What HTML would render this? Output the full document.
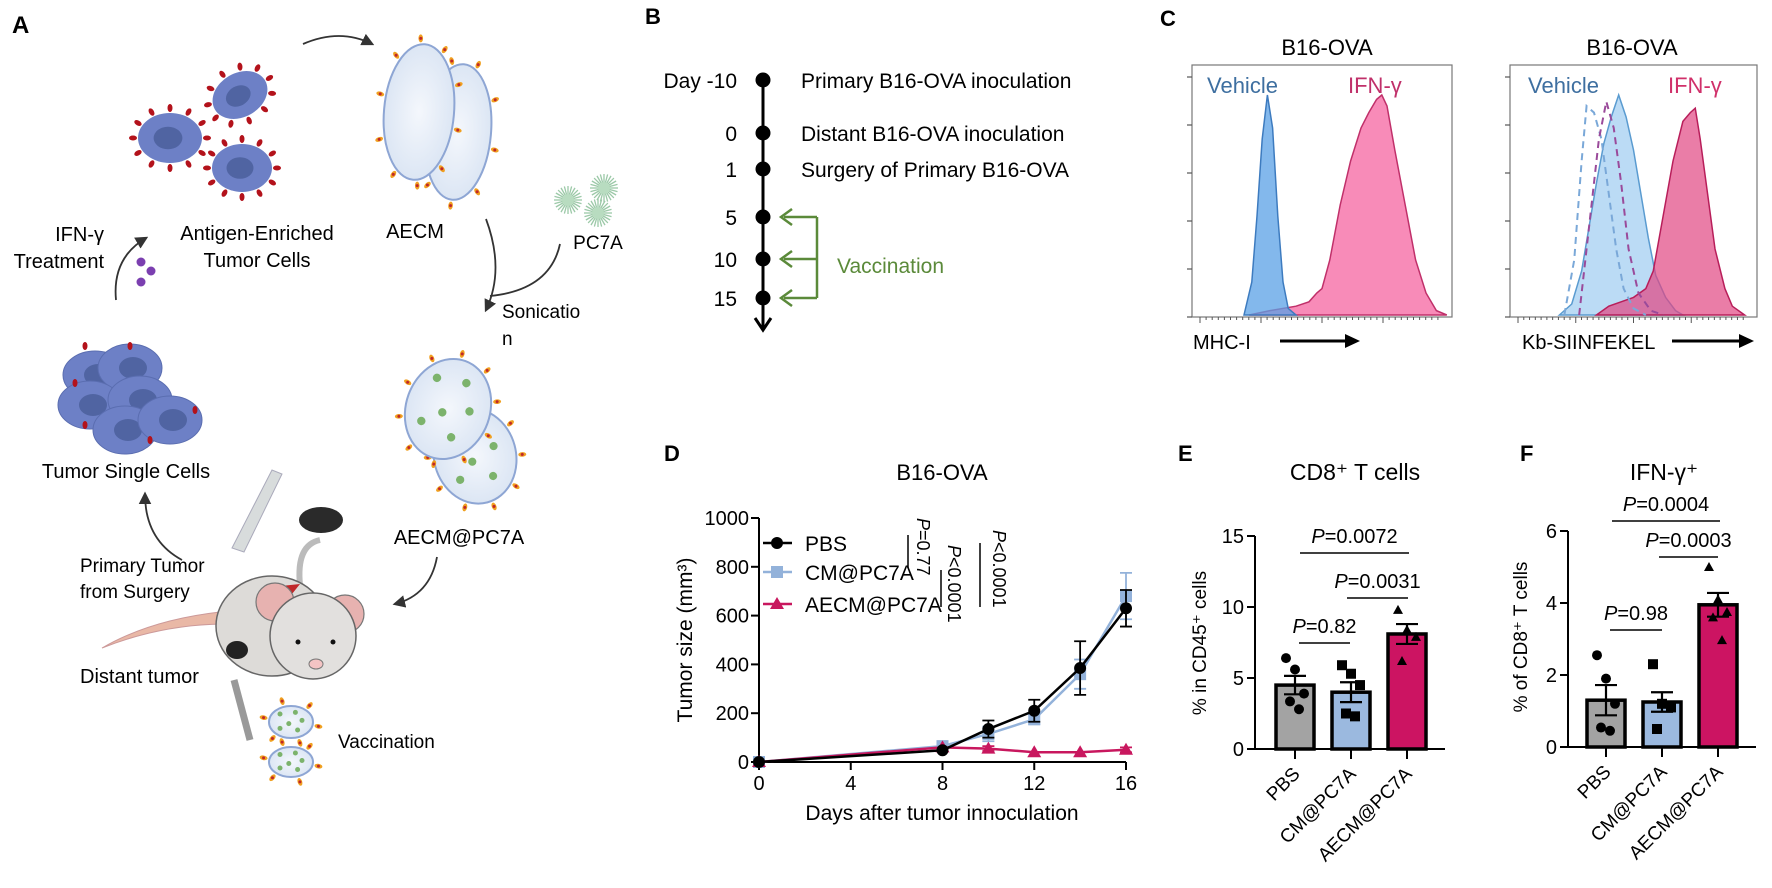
<!DOCTYPE html>
<html><head><meta charset="utf-8"><style>
html,body{margin:0;padding:0;background:#fff;}
svg{display:block;font-family:"Liberation Sans",Arial,sans-serif;}
</style></head><body>
<svg id="fig" width="1772" height="888" viewBox="0 0 1772 888">
<defs>
<marker id="ah" viewBox="0 0 10 10" refX="8" refY="5" markerWidth="7" markerHeight="7" orient="auto"><path d="M0,0 L10,5 L0,10 z" fill="#333"/></marker>
<marker id="ahg" viewBox="0 0 10 10" refX="2" refY="5" markerWidth="6" markerHeight="8" orient="auto"><path d="M10,0 L0,5 L10,10" fill="none" stroke="#5b8a3a" stroke-width="2.2"/></marker>
<radialGradient id="vesG" cx="50%" cy="50%" r="50%"><stop offset="0" stop-color="#f4f7fc"/><stop offset="1" stop-color="#dce6f4"/></radialGradient>
</defs>

<!-- PANEL A -->
<g id="panelA">
<text x="12" y="33" font-size="24" font-weight="bold">A</text>
<path d="M303,44 Q340,28 372,44" fill="none" stroke="#333" stroke-width="1.8" marker-end="url(#ah)"/>
<g id="cells"></g>
<text x="257" y="240" font-size="20" text-anchor="middle">Antigen-Enriched</text>
<text x="257" y="267" font-size="20" text-anchor="middle">Tumor Cells</text>
<text x="104" y="241" font-size="20" text-anchor="end">IFN-γ</text>
<text x="104" y="268" font-size="20" text-anchor="end">Treatment</text>
<path d="M116,300 Q112,258 146,238" fill="none" stroke="#333" stroke-width="1.8" marker-end="url(#ah)"/>
<circle cx="141" cy="262" r="4.5" fill="#7b3fb0"/>
<circle cx="151" cy="271" r="4.5" fill="#7b3fb0"/>
<circle cx="141" cy="282" r="4.5" fill="#7b3fb0"/>
<text x="415" y="238" font-size="20" text-anchor="middle">AECM</text>
<path d="M486,219 Q505,270 486,310" fill="none" stroke="#333" stroke-width="1.8" marker-end="url(#ah)"/>
<path d="M560,244 Q550,290 490,296" fill="none" stroke="#333" stroke-width="1.8"/>
<text x="502" y="318" font-size="19">Sonicatio</text>
<text x="502" y="345" font-size="19">n</text>
<g id="pc7a"></g>
<text x="598" y="249" font-size="19" text-anchor="middle">PC7A</text>
<text x="459" y="544" font-size="20" text-anchor="middle">AECM@PC7A</text>
<path d="M437,557 Q430,595 395,604" fill="none" stroke="#333" stroke-width="1.8" marker-end="url(#ah)"/>
<text x="126" y="478" font-size="20" text-anchor="middle">Tumor Single Cells</text>
<path d="M182,560 Q145,540 145,494" fill="none" stroke="#333" stroke-width="1.8" marker-end="url(#ah)"/>
<text x="80" y="572" font-size="19">Primary Tumor</text>
<text x="80" y="598" font-size="19">from Surgery</text>
<!-- scalpel -->
<path d="M232,548 L272,470 L282,474 L244,552 Z" fill="#d8dcdc" stroke="#aab" stroke-width="1"/>
<ellipse cx="321" cy="520" rx="22" ry="13" fill="#2a2a2a"/>
<path d="M300,585 Q296,545 320,540" fill="none" stroke="#bbb" stroke-width="6"/>
<!-- mouse -->
<g>
<path d="M220,612 Q150,620 102,648 Q160,625 222,624 Z" fill="#e9b8a6" stroke="#c99" stroke-width="1"/>
<ellipse cx="272" cy="626" rx="56" ry="50" fill="#dddbd8" stroke="#666" stroke-width="1.5"/>
<path d="M262,588 L300,584 L292,594 Z" fill="#c0282a"/>
<circle cx="275" cy="602" r="19" fill="#e7b2b0" stroke="#777" stroke-width="1.2"/>
<circle cx="345" cy="614" r="19" fill="#e7b2b0" stroke="#777" stroke-width="1.2"/>
<circle cx="313" cy="636" r="43" fill="#e2e0de" stroke="#666" stroke-width="1.5"/>
<circle cx="298" cy="642" r="2.5" fill="#111"/><circle cx="333" cy="642" r="2.5" fill="#111"/>
<ellipse cx="316" cy="664" rx="7" ry="5" fill="#f4c4c4" stroke="#777"/>
<ellipse cx="237" cy="650" rx="11" ry="9" fill="#222"/>
</g>
<text x="80" y="683" font-size="20">Distant tumor</text>
<path d="M234,680 L250,740" stroke="#999" stroke-width="7"/>
<g id="vacc"></g>
<text x="338" y="748" font-size="19">Vaccination</text>
</g>

<!-- PANEL B -->
<g id="panelB">
<text x="645" y="24" font-size="22" font-weight="bold">B</text>
<line x1="763" y1="80" x2="763" y2="328" stroke="#000" stroke-width="3"/>
<path d="M755,318 L763,330 L771,318" fill="none" stroke="#000" stroke-width="3"/>
<g id="timeline"></g>
<path d="M817,217 L817,298 M817,217 L784,217 M817,259 L784,259 M817,298 L784,298" fill="none" stroke="#5b8a3a" stroke-width="2.5"/>
<path d="M792,209 L781,217 L792,225 M792,251 L781,259 L792,267 M792,290 L781,298 L792,306" fill="none" stroke="#5b8a3a" stroke-width="2.5"/>
<text x="837" y="273" font-size="21" fill="#5b8a3a">Vaccination</text>
</g>

<!-- PANEL C -->
<g id="panelC">
<text x="1160" y="26" font-size="22" font-weight="bold">C</text>
<text x="1327" y="55" font-size="22" text-anchor="middle">B16-OVA</text>
<text x="1632" y="55" font-size="22" text-anchor="middle">B16-OVA</text>
<g id="hist"></g>
<text x="1193" y="349" font-size="20">MHC-I</text>
<line x1="1280" y1="341" x2="1352" y2="341" stroke="#000" stroke-width="3"/>
<path d="M1345,334 L1360,341 L1345,348 Z" fill="#000"/>
<text x="1522" y="349" font-size="20">Kb-SIINFEKEL</text>
<line x1="1672" y1="341" x2="1746" y2="341" stroke="#000" stroke-width="3"/>
<path d="M1739,334 L1754,341 L1739,348 Z" fill="#000"/>
</g>

<!-- PANEL D -->
<g id="panelD">
<text x="664" y="461" font-size="22" font-weight="bold">D</text>
<text x="942" y="480" font-size="22" text-anchor="middle">B16-OVA</text>
<g id="chartD"></g>
</g>

<!-- PANEL E/F -->
<text x="1178" y="461" font-size="22" font-weight="bold">E</text>
<text x="1520" y="461" font-size="22" font-weight="bold">F</text>
<g id="chartE"></g>
<g id="chartF"></g>
</svg>

<script>
const NS='http://www.w3.org/2000/svg';
function mk(parent,tag,attrs,text){const e=document.createElementNS(NS,tag);for(const k in attrs)e.setAttribute(k,attrs[k]);if(text!==undefined)e.textContent=text;parent.appendChild(e);return e;}

// ===== Panel A illustration =====
(function(){
const g=document.getElementById('cells');
function cell(cx,cy,rx,ry,rot,spikes){
  const c=mk(g,'g',{transform:`translate(${cx},${cy}) rotate(${rot})`});
  
  
  for(let i=0;i<spikes;i++){const a=i/spikes*Math.PI*2;const x=Math.cos(a)*(rx+5),y=Math.sin(a)*(ry+5);
    mk(c,'ellipse',{cx:x,cy:y,rx:4,ry:2.5,fill:'#b3121b',transform:`rotate(${a*180/Math.PI} ${x} ${y})`});}
  mk(c,'ellipse',{cx:0,cy:0,rx:rx,ry:ry,fill:'#6d80c6'});
  mk(c,'ellipse',{cx:-2,cy:0,rx:rx*0.45,ry:ry*0.45,fill:'#5064a2'});
}
cell(240,95,29,22,-30,11);cell(170,138,32,25,0,12);cell(242,168,30,24,0,12);
// cluster
const cl=[[95,375],[130,368],[90,405],[140,400],[125,430],[170,420]];
cl.forEach(p=>{const c=mk(g,'g',{});
 mk(c,'ellipse',{cx:p[0],cy:p[1],rx:32,ry:24,fill:'#6d80c6',stroke:'#5a6db0'});mk(c,'ellipse',{cx:p[0]+3,cy:p[1],rx:14,ry:11,fill:'#5064a2'});});
[[85,346],[130,346],[75,383],[195,410],[150,440],[85,425]].forEach(p=>mk(g,'ellipse',{cx:p[0],cy:p[1],rx:2.5,ry:4,fill:'#b3121b'}));
function vesicle(cx,cy,rx,ry,rot,np,dots){
  const v=mk(g,'g',{transform:`translate(${cx},${cy}) rotate(${rot})`});
  
  
  for(let i=0;i<np;i++){const a=i/np*Math.PI*2+0.2;const x=Math.cos(a)*(rx+6),y=Math.sin(a)*(ry+6);
    mk(v,'ellipse',{cx:x,cy:y,rx:4,ry:2.3,fill:'#f0a020',transform:`rotate(${a*180/Math.PI} ${x} ${y})`});
    mk(v,'circle',{cx:x,cy:y,r:1.5,fill:'#c0282a'});}
  mk(v,'ellipse',{cx:0,cy:0,rx:rx,ry:ry,fill:'url(#vesG)',stroke:'#8ea6d4','stroke-width':2});
  dots.forEach(d=>mk(v,'circle',{cx:d[0]*rx,cy:d[1]*ry,r:Math.max(2.5,rx*0.1),fill:'#7cb36c'}));
}
vesicle(458,132,33,68,5,9,[]);vesicle(419,112,35,68,5,10,[]);
const gd=[[-0.5,-0.5],[0.2,-0.6],[0.5,-0.1],[-0.1,0.1],[-0.5,0.4],[0.3,0.5]];
vesicle(475,456,41,48,-15,10,gd);vesicle(448,409,42,51,20,10,gd);
vesicle(291,762,22,15,0,6,gd);vesicle(291,722,22,16,0,6,gd);
const p=document.getElementById('pc7a');
[[568,200],[604,188],[598,213]].forEach(c=>{for(let i=0;i<24;i++){const a=i/24*Math.PI*2;
 mk(p,'line',{x1:c[0],y1:c[1],x2:c[0]+Math.cos(a)*14,y2:c[1]+Math.sin(a)*14,stroke:'#9cc9a8','stroke-width':1.3});}
 mk(p,'circle',{cx:c[0],cy:c[1],r:6,fill:'#b8dcc0'});});
})();

// ===== Panel B timeline =====
const tlLabels=['Day -10','0','1','5','10','15'];
const tlDays=[-10,0,1,5,10,15];
const tlEvents=['Primary B16-OVA inoculation','Distant B16-OVA inoculation','Surgery of Primary B16-OVA','','',''];
const tlY=[80,133,169,217,259,298];
(function(){
const g=document.getElementById('timeline');
tlLabels.forEach((l,i)=>{
  const d=mk(g,'circle',{cx:763,cy:tlY[i],r:7.5,fill:'#000'});
  
  
  const t=mk(g,'text',{x:737,y:tlY[i]+8,'font-size':21,'text-anchor':'end'},l);
  
  
  if(tlEvents[i]){const e=mk(g,'text',{x:801,y:tlY[i]+8,'font-size':21},tlEvents[i]);
    
    }
});
})();

// ===== Panel C histograms =====
const h1VehX=[20,23,25,27,29,31,33,35,37,40];
const h1VehY=[0,15,45,80,100,85,45,15,3,0];
const h1IfnX=[22,30,40,45,48,50,53,57,61,65,68,71,73,75,78,82,86,90,94,98];
const h1IfnY=[0,2,4,6,10,12,25,50,70,85,92,98,100,95,75,50,25,10,2,0];
const h2VehX=[20,25,29,32,35,38,41,44,47,50,53,56,59,63,67,70];
const h2VehY=[0,5,20,40,60,78,90,100,90,75,55,35,18,8,2,0];
const h2IfnX=[35,40,45,50,55,58,62,66,70,73,75,77,80,83,87,90,95];
const h2IfnY=[0,4,6,8,12,20,45,70,88,92,94,80,55,30,12,4,0];
const h2IsoVX=[22,26,29,31,34,37,40,43,46,50,55];
const h2IsoVY=[0,25,70,95,92,80,55,30,12,3,0];
const h2IsoIX=[28,32,36,39,42,45,48,52,57,62];
const h2IsoIY=[0,40,80,97,85,60,30,10,2,0];
(function(){
const g=document.getElementById('hist');
function box(x0,x1,name){
  const r=mk(g,'rect',{x:x0,y:65,width:x1-x0,height:252,fill:'none',stroke:'#777','stroke-width':1.2});
  
  
  for(let i=0;i<=5;i++){mk(g,'line',{x1:x0-5,x2:x0,y1:317-i*48,y2:317-i*48,stroke:'#555','stroke-width':1.2});}
  for(let i=0;i<40;i++){const x=x0+8+i*(x1-x0-16)/40;mk(g,'line',{x1:x,x2:x,y1:317,y2:317+(i%10==0?6:3),stroke:'#555','stroke-width':1});}
}
box(1192,1452,'histogram-1-frame');box(1510,1757,'histogram-2-frame');
function curve(x0,x1,xs,ys,fill,stroke,dash,name){
  const sx=v=>x0+v/100*(x1-x0), sy=v=>315-v*2.2;
  let d=`M${sx(xs[0])},315`;
  xs.forEach((x,i)=>{d+=` L${sx(x)},${sy(ys[i])}`;});
  d+=` L${sx(xs[xs.length-1])},315`;
  if(fill!=='none')d+=' Z';
  const pth=mk(g,'path',{d:d,fill:fill,stroke:stroke,'stroke-width':dash?2:1.5,'stroke-dasharray':dash?'7,5':'none'});
  
  
}
curve(1192,1452,h1IfnX,h1IfnY,'rgba(245,100,160,0.75)','#c0306a',false,'hist1-ifn-gamma');
curve(1192,1452,h1VehX,h1VehY,'rgba(90,160,230,0.75)','#3d7bbf',false,'hist1-vehicle');
curve(1510,1757,h2VehX,h2VehY,'rgba(150,200,240,0.65)','#5a9bd0',false,'hist2-vehicle');
curve(1510,1757,h2IfnX,h2IfnY,'rgba(225,70,130,0.7)','#b81e5a',false,'hist2-ifn-gamma');
curve(1510,1757,h2IsoVX,h2IsoVY,'none','#7aa8d8',true,'hist2-vehicle-isotype');
curve(1510,1757,h2IsoIX,h2IsoIY,'none','#9a4a9a',true,'hist2-ifn-isotype');
[[1207,'#3e6fa0','Vehicle','vehicle-label'],[1348,'#c0306a','IFN-γ','ifn-label'],[1528,'#3e6fa0','Vehicle','vehicle-label-2'],[1668,'#d0306a','IFN-γ','ifn-label-2']].forEach(a=>{
  const t=mk(g,'text',{x:a[0],y:93,'font-size':22,fill:a[1]},a[2]);
  
  
});
})();

// ===== Panel D line chart =====
const dDays=[0,8,10,12,14,16];
const dPBS=[0,48,135,210,385,630];
const dPBSerr=[0,8,35,45,110,75];
const dCM=[0,65,115,175,360,680];
const dCMerr=[0,8,30,20,60,95];
const dAECM=[0,60,55,40,40,50];
const dAECMerr=[0,6,10,6,6,10];
const dYTicks=[0,200,400,600,800,1000];
const dXTicks=[0,4,8,12,16];
(function(){
const g=document.getElementById('chartD');
const X=v=>759+v*(1126-759)/16, Y=v=>762-v*0.244;
const ax=mk(g,'path',{d:`M759,${Y(1000)} L759,762 L1126,762`,fill:'none',stroke:'#000','stroke-width':2});


dYTicks.forEach(t=>{mk(g,'line',{x1:751,x2:759,y1:Y(t),y2:Y(t),stroke:'#000','stroke-width':2});
  const tl=mk(g,'text',{x:749,y:Y(t)+7,'font-size':20,'text-anchor':'end'},t);
  
  });
dXTicks.forEach(t=>{mk(g,'line',{x1:X(t),x2:X(t),y1:762,y2:770,stroke:'#000','stroke-width':2});
  const tl=mk(g,'text',{x:X(t),y:790,'font-size':20,'text-anchor':'middle'},t);
  
  });
const yt=mk(g,'text',{x:0,y:0,'font-size':21,'text-anchor':'middle',transform:'translate(692,640) rotate(-90)'},'Tumor size (mm³)');


const xt=mk(g,'text',{x:942,y:820,'font-size':21,'text-anchor':'middle'},'Days after tumor innoculation');


function series(vals,errs,color,shape,name){
  let d='';dDays.forEach((x,i)=>{d+=(i?' L':'M')+X(x)+','+Y(vals[i]);});
  const ln=mk(g,'path',{d:d,fill:'none',stroke:color,'stroke-width':2.5});
  
  
  dDays.forEach((x,i)=>{const cx=X(x),cy=Y(vals[i]),e=errs[i]*0.244;
    if(errs[i]>8){mk(g,'path',{d:`M${cx},${cy-e} L${cx},${cy+e} M${cx-6},${cy-e} L${cx+6},${cy-e} M${cx-6},${cy+e} L${cx+6},${cy+e}`,stroke:color,'stroke-width':1.8,fill:'none'});}
    let m;
    if(shape==='c')m=mk(g,'circle',{cx:cx,cy:cy,r:6,fill:color});
    else if(shape==='s')m=mk(g,'rect',{x:cx-6,y:cy-6,width:12,height:12,fill:color});
    else m=mk(g,'path',{d:`M${cx},${cy-7} L${cx+7},${cy+5} L${cx-7},${cy+5} Z`,fill:color});
    
    });
}
series(dCM,dCMerr,'#93b2da','s','cm-pc7a');
series(dAECM,dAECMerr,'#c8175e','t','aecm-pc7a');
series(dPBS,dPBSerr,'#000','c','pbs');
const leg=[['PBS','#000','c',543],['CM@PC7A','#93b2da','s',572],['AECM@PC7A','#c8175e','t',604]];
leg.forEach(l=>{const lg=mk(g,'g',{});
  
  
  mk(lg,'line',{x1:763,x2:792,y1:l[3],y2:l[3],stroke:l[1],'stroke-width':2.5});
  if(l[2]==='c')mk(lg,'circle',{cx:777,cy:l[3],r:6,fill:l[1]});
  else if(l[2]==='s')mk(lg,'rect',{x:771,y:l[3]-6,width:12,height:12,fill:l[1]});
  else mk(lg,'path',{d:`M777,${l[3]-7} L784,${l[3]+5} L770,${l[3]+5} Z`,fill:l[1]});
  mk(lg,'text',{x:805,y:l[3]+8,'font-size':21},l[0]);});
[[908,535,568,917,518,'P=0.77'],[941,570,607,948,545,'P<0.0001'],[980,543,607,993,530,'P<0.0001']].forEach(b=>{
  mk(g,'line',{x1:b[0],x2:b[0],y1:b[1],y2:b[2],stroke:'#000','stroke-width':1.5});
  const t=mk(g,'text',{x:0,y:0,'font-size':18,transform:`translate(${b[3]},${b[4]}) rotate(90)`});
  mk(t,'tspan',{'font-style':'italic'},'P');mk(t,'tspan',{},b[5].slice(1));
  
  });
})();

// ===== Bar charts E / F =====
const barCats=['PBS','CM@PC7A','AECM@PC7A'];
const eMeans=[4.5,4.0,8.1];
const eSEM=[0.65,0.7,0.7];
const ePBSpts=[6.4,5.6,3.9,3.35,2.8];
const eCMpts=[5.9,5.3,4.5,2.5,2.3];
const eAECMpts=[9.8,8.4,7.9,6.2];
const eTicks=[0,5,10,15];
const fMeans=[1.3,1.25,3.95];
const fSEM=[0.42,0.27,0.33];
const fPBSpts=[2.55,1.9,1.2,0.54,0.45];
const fCMpts=[2.3,1.2,1.1,0.5];
const fAECMpts=[5.0,4.1,3.75,3.6,2.97];
const fTicks=[0,2,4,6];
const eP=['P=0.82','P=0.0031','P=0.0072'];
const fP=['P=0.98','P=0.0003','P=0.0004'];
function barChart(gid,cfg){
  const g=document.getElementById(gid);
  const Y=v=>cfg.y0-(v/cfg.max)*(cfg.y0-cfg.yTop);
  const colors=['#a3a3a3','#9bb9df','#cc1462'],shapes=['c','s','t'];
  const ax=mk(g,'path',{d:`M${cfg.ax},${cfg.yTop} L${cfg.ax},${cfg.y0} L${cfg.xEnd},${cfg.y0}`,fill:'none',stroke:'#000','stroke-width':2});
  
  
  cfg.ticks.forEach(t=>{mk(g,'line',{x1:cfg.ax-8,x2:cfg.ax,y1:Y(t),y2:Y(t),stroke:'#000','stroke-width':2});
    const tl=mk(g,'text',{x:cfg.ax-11,y:Y(t)+7,'font-size':20,'text-anchor':'end'},t);
    
    });
  const yt=mk(g,'text',{x:0,y:0,'font-size':19,'text-anchor':'middle',transform:`translate(${cfg.ytx},${cfg.yty}) rotate(-90)`},cfg.ytitle);
  
  
  const tt=mk(g,'text',{x:cfg.titleX,y:480,'font-size':23,'text-anchor':'middle'},cfg.title);
  
  
  cfg.means.forEach((m,i)=>{const cx=cfg.cx[i];
    const b=mk(g,'rect',{x:cx-19,y:Y(m),width:38,height:cfg.y0-Y(m),fill:colors[i],stroke:'#000','stroke-width':3.5});
    
    
    const pts=cfg.pts[i];
    pts.forEach((v,j)=>{const px=cx+((j%3)-1)*9+(j>2?4:0),py=Y(v);let mkr;
      if(shapes[i]==='c')mkr=mk(g,'circle',{cx:px,cy:py,r:5,fill:'#000'});
      else if(shapes[i]==='s')mkr=mk(g,'rect',{x:px-5,y:py-5,width:10,height:10,fill:'#000'});
      else mkr=mk(g,'path',{d:`M${px},${py-5} L${px+5},${py+4} L${px-5},${py+4} Z`,fill:'#000'});
      
      });
    const t1=Y(m+cfg.sem[i]),t2=Y(m-cfg.sem[i]);
    mk(g,'path',{d:`M${cx},${t1} L${cx},${t2} M${cx-11},${t1} L${cx+11},${t1} M${cx-11},${t2} L${cx+11},${t2}`,stroke:'#000','stroke-width':2.2,fill:'none'});
    mk(g,'line',{x1:cx,x2:cx,y1:cfg.y0,y2:cfg.y0+10,stroke:'#000','stroke-width':2});
    const xl=mk(g,'text',{x:0,y:0,'font-size':19,'text-anchor':'end',transform:`translate(${cx+6},${cfg.y0+26}) rotate(-45)`},barCats[i]);
    
    });
  cfg.brackets.forEach((b,k)=>{
    mk(g,'line',{x1:b[0],x2:b[1],y1:b[2],y2:b[2],stroke:'#000','stroke-width':1.5});
    const t=mk(g,'text',{x:(b[0]+b[1])/2,y:b[2]-10,'font-size':20,'text-anchor':'middle'});
    mk(t,'tspan',{'font-style':'italic'},'P');mk(t,'tspan',{},cfg.p[k].slice(1));
    
    });
}
barChart('chartE',{pre:'e',ax:1255,y0:749,yTop:536,max:15,xEnd:1445,ticks:eTicks,means:eMeans,sem:eSEM,
  pts:[ePBSpts,eCMpts,eAECMpts],cx:[1295,1351,1407],ytitle:'% in CD45⁺ cells',ytx:1206,yty:643,title:'CD8⁺ T cells',titleX:1355,
  brackets:[[1299,1350,643],[1347,1408,598],[1300,1409,553]],p:eP});
barChart('chartF',{pre:'f',ax:1568,y0:747,yTop:531,max:6,xEnd:1756,ticks:fTicks,means:fMeans,sem:fSEM,
  pts:[fPBSpts,fCMpts,fAECMpts],cx:[1606,1662,1718],ytitle:'% of CD8⁺ T cells',ytx:1527,yty:637,title:'IFN-γ⁺',titleX:1664,
  brackets:[[1610,1662,630],[1659,1718,557],[1612,1720,521]],p:fP});
</script>
</body></html>
